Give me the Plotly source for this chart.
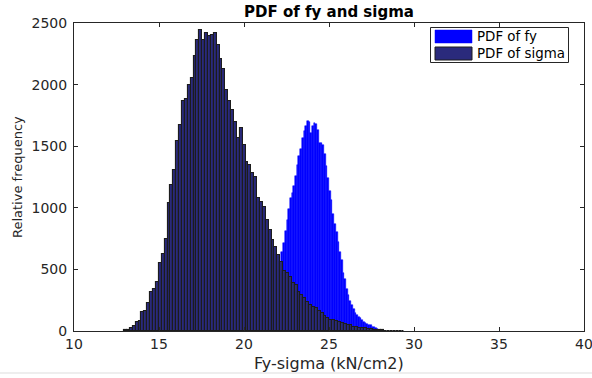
import plotly.graph_objects as go

# ---------------- data ----------------
sigma_bin_start = 12.95
sigma_bin_width = 0.17
sigma_counts = [
    5, 10, 25, 40, 75, 80, 157, 160, 225, 320,
    345, 400, 550, 625, 745, 1040, 1185, 1310, 1540, 1670,
    1865, 1880, 2000, 2050, 2230, 2360, 2445, 2365, 2420, 2395,
    2405, 2415, 2320, 2210, 2130, 1960, 1870, 1790, 1700, 1570,
    1645, 1510, 1375, 1345, 1280, 1250, 1080, 1050, 1010, 900,
    820, 740, 680, 615, 560, 490, 470, 440, 390, 375,
    320, 290, 265, 238, 211, 197, 184, 165, 143, 118,
    105, 90, 92, 82, 76, 68, 57, 50, 46, 36,
    34, 27, 24, 22, 19, 14, 11, 8, 6, 5,
    4, 3, 2, 2, 1, 1, 1,
]

fy_bin_start = 19.8
fy_bin_width = 0.1
fy_counts = [
    1, 2, 3, 4, 6, 8, 11, 15, 20, 28,
    36, 46, 60, 76, 95, 120, 150, 185, 230, 280,
    335, 400, 470, 560, 640, 715, 810, 900, 990, 1080,
    1120, 1175, 1260, 1350, 1420, 1475, 1565, 1620, 1660, 1705,
    1700, 1610, 1660, 1690, 1680, 1630, 1530, 1525, 1510, 1440,
    1340, 1240, 1140, 1065, 950, 870, 800, 720, 640, 580,
    470, 420, 345, 290, 245, 210, 175, 150, 130, 115,
    102, 88, 76, 66, 57, 48, 45, 36, 30, 24,
    18, 12, 7, 4, 2,
]

series_names = ["PDF of fy", "PDF of sigma"]
title_text = "PDF of fy and sigma"
x_label = "Fy-sigma (kN/cm2)"
y_label = "Relative frequency"
x_range = [10, 40]
y_range = [0, 2500]

sigma_x = [sigma_bin_start + sigma_bin_width * (i + 0.5) for i in range(len(sigma_counts))]
fy_x = [fy_bin_start + fy_bin_width * (i + 0.5) for i in range(len(fy_counts))]

FY_COLOR = "#0000ff"
SIG_COLOR = "#2a2a7c"
EDGE = "#1c1c1c"
TXT = "#262626"
FONT = "DejaVu Sans"

fig = go.Figure()
fig.add_trace(go.Bar(
    x=fy_x, y=fy_counts, width=fy_bin_width, name=series_names[0],
    marker=dict(color=FY_COLOR, line=dict(color=FY_COLOR, width=0.5)),
    showlegend=False,
))
fig.add_trace(go.Bar(
    x=sigma_x, y=sigma_counts, width=sigma_bin_width, name=series_names[1],
    marker=dict(color=SIG_COLOR, line=dict(color=EDGE, width=1.1)),
    showlegend=False,
))

L, R, T, B = 74, 8, 23, 47
W, H = 592, 378
pw, ph = W - L - R, H - T - B

def px(xp):
    return (xp - L) / pw

def py(yp):
    return (H - B - yp) / ph

shapes = []
# manual legend box
shapes.append(dict(type="rect", xref="paper", yref="paper",
                   x0=px(430.5), x1=px(568.5), y0=py(62.5), y1=py(27.5),
                   line=dict(color=TXT, width=1), fillcolor="white", layer="above"))
shapes.append(dict(type="rect", xref="paper", yref="paper",
                   x0=px(435), x1=px(472), y0=py(43), y1=py(30),
                   line=dict(color=FY_COLOR, width=0.5), fillcolor=FY_COLOR, layer="above"))
shapes.append(dict(type="rect", xref="paper", yref="paper",
                   x0=px(435), x1=px(472), y0=py(60), y1=py(47),
                   line=dict(color=EDGE, width=1), fillcolor=SIG_COLOR, layer="above"))
# faint frame line at the bottom of the picture
shapes.append(dict(type="line", xref="paper", yref="paper",
                   x0=px(0), x1=px(592), y0=py(373), y1=py(373),
                   line=dict(color="#dddddd", width=1)))

annotations = [
    dict(text=series_names[0], xref="paper", yref="paper", x=px(475), y=py(36.5),
         xanchor="left", yanchor="middle", showarrow=False,
         font=dict(family=FONT, size=13.4, color="#000000")),
    dict(text=series_names[1], xref="paper", yref="paper", x=px(475), y=py(53.5),
         xanchor="left", yanchor="middle", showarrow=False,
         font=dict(family=FONT, size=13.4, color="#000000")),
    dict(text=x_label, xref="paper", yref="paper", x=0.5, y=py(363),
         xanchor="center", yanchor="middle", showarrow=False,
         font=dict(family=FONT, size=16, color=TXT)),
    dict(text=y_label, xref="paper", yref="paper", x=px(17), y=py(177),
         xanchor="center", yanchor="middle", showarrow=False, textangle=-90,
         font=dict(family=FONT, size=13, color=TXT)),
]

fig.update_layout(
    width=W, height=H, autosize=False,
    margin=dict(l=L, r=R, t=T, b=B, pad=0, autoexpand=False),
    paper_bgcolor="white", plot_bgcolor="white",
    barmode="overlay", bargap=0,
    title=dict(text="<b>" + title_text + "</b>", x=px(329), xref="paper", xanchor="center",
               y=1 - 12 / H, yref="container", yanchor="middle",
               font=dict(family=FONT, size=15, color="#000000")),
    shapes=shapes, annotations=annotations,
    xaxis=dict(range=x_range, tick0=10, dtick=5, ticks="inside", ticklen=4,
               tickcolor=TXT, showline=True, linecolor=TXT, linewidth=1, mirror="ticks",
               showgrid=False, zeroline=False, ticklabeloverflow="allow", automargin=False,
               tickfont=dict(family=FONT, size=14, color=TXT)),
    yaxis=dict(range=y_range, tick0=0, dtick=500, ticks="inside", ticklen=4,
               tickcolor=TXT, showline=True, linecolor=TXT, linewidth=1, mirror="ticks",
               showgrid=False, zeroline=False, ticklabelstandoff=3, automargin=False,
               tickfont=dict(family=FONT, size=14, color=TXT)),
)

fig.write_html("out.html")
